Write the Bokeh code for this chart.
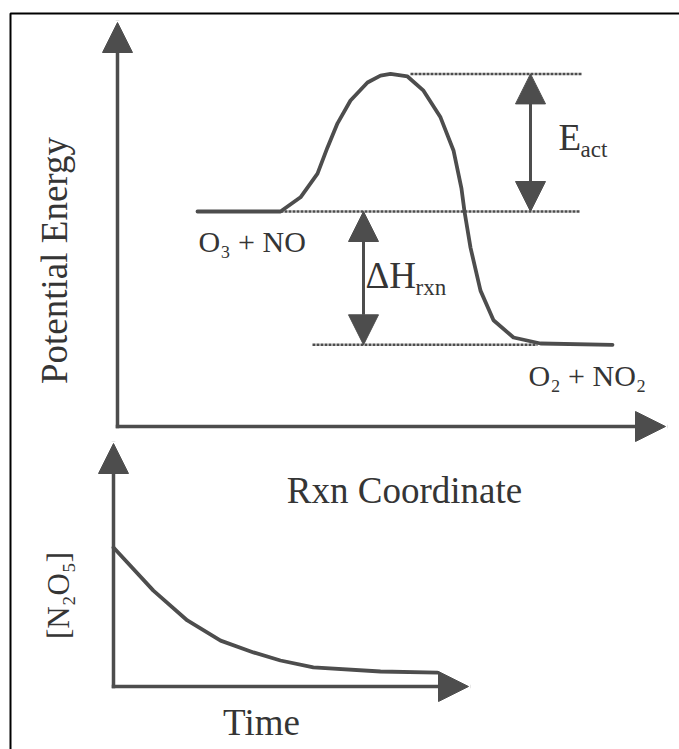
import math
from bokeh.plotting import figure
from bokeh.models import Range1d, Arrow, NormalHead, BoxAnnotation
from bokeh.embed import file_html
from bokeh.resources import INLINE
from bokeh.core.properties import value

# ---------------- data ----------------
# Top panel: potential-energy profile (reaction coordinate, energy in arbitrary units)
rxn_coord = [1.60, 3.26, 3.66, 4.00, 4.20, 4.40, 4.66, 5.00, 5.26, 5.46, 5.80,
             6.12, 6.46, 6.72, 6.88, 6.94, 7.06, 7.26, 7.52, 7.92, 8.46, 9.90]
energy = [50.0, 50.0, 53.3, 58.8, 64.9, 70.5, 75.8, 80.0, 81.6, 82.0, 81.4,
          78.1, 71.9, 64.2, 55.3, 50.0, 41.6, 31.6, 24.7, 20.7, 19.3, 19.0]
E_reactants = 50.0
E_transition = 82.0
E_products = 19.0

# Bottom panel: [N2O5] decay with time (arbitrary units)
time_vals = [0.0, 1.14, 2.11, 3.06, 4.00, 4.77, 5.71, 7.63, 9.26]
conc_vals = [1.0, 0.69, 0.475, 0.33, 0.245, 0.187, 0.137, 0.108, 0.100]

# labels
reactant_label = "O₃ + NO"
product_label = "O₂ + NO₂"
eact_main, eact_sub = "E", "act"
dh_main, dh_sub = "ΔH", "rxn"
top_ylabel = "Potential Energy"
top_xlabel = "Rxn Coordinate"
bot_ylabel = "[N₂O₅]"
bot_xlabel = "Time"

# ---------------- layout ----------------
W, H = 679, 749
FONT = "Liberation Serif"
INK = "#4d4d4d"
TEXT = "#353535"
BASE_CORR = 0.35   # empirical baseline correction (fraction of font size)


def fx(px):
    return px


def fy(py):
    return H - py


# pixel anchors of the two panels (page coordinates)
TOP_X0, TOP_XS = 117.0, 50.0     # page x of rxn=0, px per unit
TOP_Y0, TOP_YS = 426.0, 4.3      # page y of E=0, px per unit
BOT_X0, BOT_XS = 113.0, 35.0
BOT_Y0, BOT_YS = 686.0, 139.0

p = figure(width=W, height=H, output_backend="svg", toolbar_location=None,
           x_range=Range1d(0, W), y_range=Range1d(0, H), min_border=0,
           x_axis_location=None, y_axis_location=None,
           background_fill_color="white", border_fill_color="white",
           outline_line_color=None)
p.grid.visible = False

p.extra_x_ranges = {
    "rxn": Range1d(-TOP_X0 / TOP_XS, (W - TOP_X0) / TOP_XS),
    "time": Range1d(-BOT_X0 / BOT_XS, (W - BOT_X0) / BOT_XS),
}
p.extra_y_ranges = {
    "energy": Range1d((TOP_Y0 - H) / TOP_YS, TOP_Y0 / TOP_YS),
    "conc": Range1d((BOT_Y0 - H) / BOT_YS, BOT_Y0 / BOT_YS),
}

# frame (scan border: only left and top edges are inside the picture)
p.add_layout(BoxAnnotation(left=fx(10), right=W + 40, top=fy(13), bottom=-40,
                           fill_alpha=0, line_color="black", line_alpha=1.0,
                           line_width=2))


def head():
    return NormalHead(size=30, fill_color=INK, line_color=INK, line_width=1)


# ---- top panel ----
top_x_end = (665 - TOP_X0) / TOP_XS
top_y_end = (TOP_Y0 - 22) / TOP_YS
p.add_layout(Arrow(end=head(), x_start=0, y_start=0, x_end=0, y_end=top_y_end,
                   x_range_name="rxn", y_range_name="energy",
                   line_color=INK, line_width=3.5, line_cap="square"))
p.add_layout(Arrow(end=head(), x_start=0, y_start=0, x_end=top_x_end, y_end=0,
                   x_range_name="rxn", y_range_name="energy",
                   line_color=INK, line_width=3.5, line_cap="square"))

# dotted reference levels
p.segment(x0=[rxn_coord[1], 5.86, 3.90], y0=[E_reactants, E_transition, E_products],
          x1=[9.26, 9.30, 8.40], y1=[E_reactants, E_transition, E_products],
          x_range_name="rxn", y_range_name="energy",
          line_color=INK, line_width=2.5, line_dash="3 1")

# energy profile
p.line(rxn_coord, energy, x_range_name="rxn", y_range_name="energy",
       line_color=INK, line_width=3.8, line_join="round", line_cap="round")

# E_act and dH arrows
p.add_layout(Arrow(start=head(), end=head(), x_start=8.26, y_start=E_reactants,
                   x_end=8.26, y_end=E_transition,
                   x_range_name="rxn", y_range_name="energy",
                   line_color=INK, line_width=3))
p.add_layout(Arrow(start=head(), end=head(), x_start=4.92, y_start=E_reactants,
                   x_end=4.92, y_end=E_products,
                   x_range_name="rxn", y_range_name="energy",
                   line_color=INK, line_width=3))

# ---- bottom panel ----
bot_x_end = (468 - BOT_X0) / BOT_XS
bot_y_end = (BOT_Y0 - 443) / BOT_YS
p.add_layout(Arrow(end=head(), x_start=0, y_start=0, x_end=0, y_end=bot_y_end,
                   x_range_name="time", y_range_name="conc",
                   line_color=INK, line_width=3.5, line_cap="square"))
p.add_layout(Arrow(end=head(), x_start=0, y_start=0, x_end=bot_x_end, y_end=0,
                   x_range_name="time", y_range_name="conc",
                   line_color=INK, line_width=3.5, line_cap="square"))
p.line(time_vals, conc_vals, x_range_name="time", y_range_name="conc",
       line_color=INK, line_width=3.8, line_join="round", line_cap="round")


# ---- texts ----
def htext(px, baseline_py, txt, size, align="left"):
    p.text(x=[fx(px)], y=[fy(baseline_py - BASE_CORR * size)], text=[txt],
           text_font=value(FONT), text_color=TEXT, text_baseline="alphabetic",
           text_font_size=f"{size}px", text_align=align)


def vtext(baseline_px, center_py, txt, size):
    p.text(x=[fx(baseline_px - BASE_CORR * size)], y=[fy(center_py)], text=[txt],
           angle=math.pi / 2, text_font=value(FONT), text_color=TEXT,
           text_baseline="alphabetic", text_font_size=f"{size}px", text_align="center")


htext(198, 251, reactant_label, 30)
htext(528, 385, product_label, 30)
htext(558, 150, eact_main, 37)
htext(580, 157, eact_sub, 23)
htext(365, 288, dh_main, 37)
htext(415, 295, dh_sub, 23)
htext(404, 503, top_xlabel, 37, "center")
htext(261, 735, bot_xlabel, 37, "center")
vtext(67, 260, top_ylabel, 37)
vtext(69, 595, bot_ylabel, 31)

open("out.html", "w").write(file_html(p, INLINE))
